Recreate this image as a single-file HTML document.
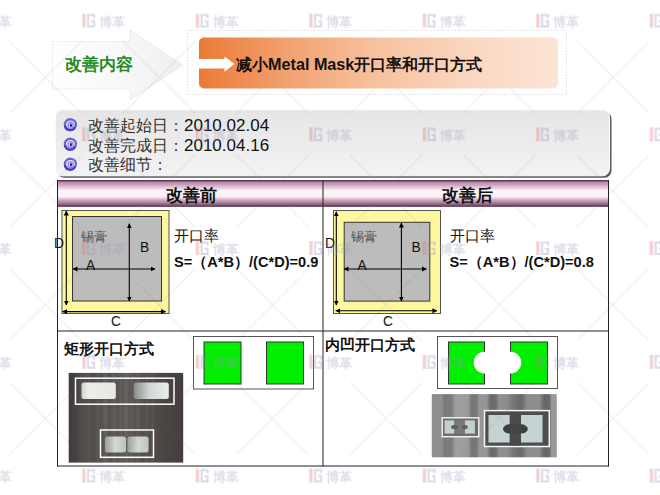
<!DOCTYPE html>
<html><head><meta charset="utf-8">
<style>
html,body{margin:0;padding:0;background:#fff;}
body{width:660px;height:495px;position:relative;overflow:hidden;font-family:"Liberation Sans",sans-serif;}
.t{position:absolute;white-space:nowrap;line-height:1;}
svg{position:absolute;left:0;top:0;}
</style></head><body>
<svg width="660" height="495" viewBox="0 0 660 495">
  <defs>
    <linearGradient id="og" x1="0" y1="0" x2="1" y2="0">
      <stop offset="0" stop-color="#ea7a36"/>
      <stop offset="0.25" stop-color="#f2a271"/>
      <stop offset="0.5" stop-color="#f7c2a0"/>
      <stop offset="0.75" stop-color="#fad6c0"/>
      <stop offset="1" stop-color="#fce4d6"/>
    </linearGradient>
    <linearGradient id="ag" x1="0" y1="0" x2="1" y2="0">
      <stop offset="0" stop-color="#ffffff"/>
      <stop offset="0.5" stop-color="#f8f8f8"/>
      <stop offset="1" stop-color="#efefef"/>
    </linearGradient>
    <linearGradient id="ig" x1="0" y1="0" x2="0" y2="1">
      <stop offset="0" stop-color="#e5e5e5"/>
      <stop offset="0.5" stop-color="#ececec"/>
      <stop offset="1" stop-color="#f3f3f3"/>
    </linearGradient>
    <linearGradient id="hg" x1="0" y1="0" x2="0" y2="1">
      <stop offset="0" stop-color="#4a2a42"/>
      <stop offset="0.045" stop-color="#7a4a68"/>
      <stop offset="0.08" stop-color="#b888a6"/>
      <stop offset="0.16" stop-color="#c99cb9"/>
      <stop offset="0.4" stop-color="#fbf6f9"/>
      <stop offset="0.62" stop-color="#f8f0f4"/>
      <stop offset="0.76" stop-color="#cba4bc"/>
      <stop offset="0.88" stop-color="#a07090"/>
      <stop offset="0.95" stop-color="#7a4a68"/>
      <stop offset="1" stop-color="#3a2234"/>
    </linearGradient>
    <marker id="ah" viewBox="0 0 10 10" refX="9" refY="5" markerWidth="5" markerHeight="5.2" orient="auto-start-reverse" markerUnits="userSpaceOnUse">
      <path d="M0,0 L10,5 L0,10 z" fill="#000"/>
    </marker>
  </defs>

  <!-- title left arrow -->
  <path d="M52.5,41.5 H130 V30 L183,65 L130,100 V89 H52.5 Z" fill="url(#ag)"/>
  <path d="M52.5,41.5 H130 V30 L183,65 L130,100 V89 H52.5 Z" fill="none" stroke="#e2e2e2" stroke-width="1" stroke-dasharray="1.5 1.5"/>
  <!-- dotted outer around orange -->
  <rect x="187.5" y="30.5" width="379" height="64" fill="none" stroke="#e0e0e0" stroke-width="1" stroke-dasharray="1.5 1.5"/>
  <rect x="199" y="37.5" width="359" height="51" rx="5" fill="url(#og)"/>
  <path d="M199,59 H224.5 V56.4 L234.5,64 L224.5,71.8 V68.5 H199 Z" fill="#fff"/>

  <!-- info box -->
  <rect x="57.2" y="111.8" width="554.3" height="66" rx="7" fill="#5a5a5a"/>
  <rect x="55.2" y="109.8" width="554.3" height="66" rx="7" fill="url(#ig)" stroke="#fff" stroke-width="1"/>


  <!-- bullets -->
  <g>
    <path d="M74.8,127.6 C72.6,131.2 66.4,131 65.1,126.4 C63.9,122 67.4,118.9 71.2,119.3 C75,119.7 76.8,123.2 75.6,126.2" fill="none" stroke="#6a62d6" stroke-width="2.3" stroke-linecap="round"/>
    <path d="M74.8,127.6 C72.6,131.2 66.4,131 65.1,126.4" fill="none" stroke="#4a40c0" stroke-width="2.2" stroke-linecap="round"/>
    <ellipse cx="70.6" cy="125.2" rx="2.6" ry="3.1" fill="none" stroke="#8a84e4" stroke-width="1.3"/>
    <ellipse cx="70.9" cy="125.2" rx="1.1" ry="1.9" fill="#2a2290"/>
  </g>
  <g transform="translate(0,19.5)">
    <path d="M74.8,127.6 C72.6,131.2 66.4,131 65.1,126.4 C63.9,122 67.4,118.9 71.2,119.3 C75,119.7 76.8,123.2 75.6,126.2" fill="none" stroke="#6a62d6" stroke-width="2.3" stroke-linecap="round"/>
    <path d="M74.8,127.6 C72.6,131.2 66.4,131 65.1,126.4" fill="none" stroke="#4a40c0" stroke-width="2.2" stroke-linecap="round"/>
    <ellipse cx="70.6" cy="125.2" rx="2.6" ry="3.1" fill="none" stroke="#8a84e4" stroke-width="1.3"/>
    <ellipse cx="70.9" cy="125.2" rx="1.1" ry="1.9" fill="#2a2290"/>
  </g>
  <g transform="translate(0,39.5)">
    <path d="M74.8,127.6 C72.6,131.2 66.4,131 65.1,126.4 C63.9,122 67.4,118.9 71.2,119.3 C75,119.7 76.8,123.2 75.6,126.2" fill="none" stroke="#6a62d6" stroke-width="2.3" stroke-linecap="round"/>
    <path d="M74.8,127.6 C72.6,131.2 66.4,131 65.1,126.4" fill="none" stroke="#4a40c0" stroke-width="2.2" stroke-linecap="round"/>
    <ellipse cx="70.6" cy="125.2" rx="2.6" ry="3.1" fill="none" stroke="#8a84e4" stroke-width="1.3"/>
    <ellipse cx="70.9" cy="125.2" rx="1.1" ry="1.9" fill="#2a2290"/>
  </g>

  <!-- table header -->
  <rect x="58" y="180" width="550.5" height="26.8" fill="url(#hg)"/>
  <!-- table lines -->
  <g stroke="#222" stroke-width="1" fill="none">
    <line x1="57.5" y1="180" x2="57.5" y2="466.5"/>
    <line x1="608.5" y1="180" x2="608.5" y2="466.5"/>
    <line x1="323" y1="180" x2="323" y2="466.5"/>
    <line x1="57.5" y1="331" x2="608.5" y2="331"/>
    <line x1="57" y1="466" x2="609" y2="466"/>
  </g>

  <!-- left diagram -->
  <rect x="62" y="210.5" width="107" height="103" fill="#fdf79e" stroke="#555" stroke-width="1"/>
  <rect x="72.5" y="216.5" width="89" height="84.5" fill="#bcbcbc" stroke="#333" stroke-width="1"/>
  <g stroke="#000" stroke-width="1.1" marker-start="url(#ah)" marker-end="url(#ah)">
    <line x1="66.3" y1="211" x2="66.3" y2="305"/>
    <line x1="62.6" y1="311.6" x2="165.5" y2="311.6"/>
    <line x1="73" y1="269" x2="155" y2="269"/>
    <line x1="129.3" y1="223.8" x2="129.3" y2="301"/>
  </g>

  <!-- right diagram -->
  <rect x="333.5" y="210.5" width="107" height="103" fill="#fdf79e" stroke="#555" stroke-width="1"/>
  <rect x="344.2" y="222.3" width="85.6" height="78.8" fill="#bcbcbc" stroke="#333" stroke-width="1"/>
  <g stroke="#000" stroke-width="1.1" marker-start="url(#ah)" marker-end="url(#ah)">
    <line x1="336.3" y1="211.8" x2="336.3" y2="305"/>
    <line x1="335.8" y1="310.8" x2="436.9" y2="310.8"/>
    <line x1="344" y1="269" x2="426.4" y2="269"/>
    <line x1="401.4" y1="223" x2="401.4" y2="301"/>
  </g>

  <!-- green boxes left -->
  <rect x="193.5" y="336.5" width="120" height="52.5" fill="#fff" stroke="#555" stroke-width="1"/>
  <rect x="204" y="342" width="37" height="42" fill="#00ee00" stroke="#333" stroke-width="1"/>
  <rect x="266.5" y="342" width="37" height="42" fill="#00ee00" stroke="#333" stroke-width="1"/>

  <!-- green boxes right -->
  <rect x="437.5" y="336.5" width="120" height="52" fill="#fff" stroke="#555" stroke-width="1"/>
  <rect x="448.5" y="342" width="36" height="42" fill="#00ee00" stroke="#333" stroke-width="1"/>
  <rect x="510.5" y="342" width="37" height="42" fill="#00ee00" stroke="#333" stroke-width="1"/>
  <circle cx="484.5" cy="362.6" r="10.8" fill="#fff"/>
  <circle cx="510.5" cy="362.6" r="10.8" fill="#fff"/>
  

  <!-- left photo -->
  <defs>
    <linearGradient id="lp" x1="0" y1="0" x2="1" y2="0">
      <stop offset="0" stop-color="#403c3b"/>
      <stop offset="0.1" stop-color="#4a4644"/>
      <stop offset="0.3" stop-color="#565250"/>
      <stop offset="0.5" stop-color="#5a5654"/>
      <stop offset="0.7" stop-color="#524c4a"/>
      <stop offset="0.85" stop-color="#4a4442"/>
      <stop offset="1" stop-color="#443e3c"/>
    </linearGradient>
    <linearGradient id="pad1" x1="0" y1="0" x2="1" y2="0">
      <stop offset="0" stop-color="#d0d3cd"/>
      <stop offset="0.2" stop-color="#eceee8"/>
      <stop offset="1" stop-color="#e6e8e2"/>
    </linearGradient>
    <linearGradient id="pad2" x1="0" y1="0" x2="1" y2="0">
      <stop offset="0" stop-color="#8a8c88"/>
      <stop offset="0.45" stop-color="#d4d8d4"/>
      <stop offset="1" stop-color="#eaeeea"/>
    </linearGradient>
    <linearGradient id="pad3" x1="0" y1="0" x2="1" y2="0">
      <stop offset="0" stop-color="#9a9e9a"/>
      <stop offset="0.5" stop-color="#d4d9d4"/>
      <stop offset="1" stop-color="#bcc2bc"/>
    </linearGradient>
    <linearGradient id="rp" x1="0" y1="0" x2="1" y2="0">
      <stop offset="0" stop-color="#8d8d8d"/>
      <stop offset="0.08" stop-color="#8f8f8f"/>
      <stop offset="0.1" stop-color="#7a7a7a"/>
      <stop offset="0.16" stop-color="#7e7e7e"/>
      <stop offset="0.19" stop-color="#9f9f9f"/>
      <stop offset="0.29" stop-color="#9b9b9b"/>
      <stop offset="0.32" stop-color="#767676"/>
      <stop offset="0.36" stop-color="#787878"/>
      <stop offset="0.38" stop-color="#979797"/>
      <stop offset="0.44" stop-color="#959595"/>
      <stop offset="0.47" stop-color="#6a6a6a"/>
      <stop offset="0.51" stop-color="#6d6d6d"/>
      <stop offset="0.54" stop-color="#8f8f8f"/>
      <stop offset="0.6" stop-color="#8d8d8d"/>
      <stop offset="0.66" stop-color="#747474"/>
      <stop offset="0.72" stop-color="#696969"/>
      <stop offset="0.76" stop-color="#8b8b8b"/>
      <stop offset="0.86" stop-color="#8e8e8e"/>
      <stop offset="0.9" stop-color="#666666"/>
      <stop offset="0.94" stop-color="#696969"/>
      <stop offset="0.96" stop-color="#9b9b9b"/>
      <stop offset="1" stop-color="#989898"/>
    </linearGradient>
  </defs>
  <rect x="68.7" y="372.9" width="114.5" height="89.7" fill="url(#lp)"/>
  <filter id="bl" x="-50%" y="-5%" width="200%" height="110%"><feGaussianBlur stdDeviation="0.9"/></filter>
  <g fill="#ffffff" opacity="0.09" filter="url(#bl)">
    <rect x="80" y="372.9" width="1.5" height="89.7"/>
    <rect x="84" y="372.9" width="1.5" height="89.7"/>
    <rect x="88" y="372.9" width="2" height="89.7"/>
    <rect x="97" y="372.9" width="1.5" height="89.7"/>
    <rect x="104" y="372.9" width="3" height="89.7"/>
    <rect x="113" y="372.9" width="2" height="89.7"/>
    <rect x="120" y="372.9" width="1.5" height="89.7"/>
    <rect x="125" y="372.9" width="3" height="89.7"/>
    <rect x="131" y="372.9" width="1.5" height="89.7"/>
    <rect x="137" y="372.9" width="2" height="89.7"/>
    <rect x="146" y="372.9" width="1.5" height="89.7"/>
    <rect x="152" y="372.9" width="1.5" height="89.7"/>
  </g>
  <rect x="75.5" y="378.2" width="98.5" height="26" fill="none" stroke="#fff" stroke-width="1.5"/>
  <rect x="81.5" y="382.6" width="34.3" height="16.4" rx="2.5" fill="url(#pad1)"/>
  <rect x="133.8" y="382.6" width="35" height="16.4" rx="2.5" fill="url(#pad2)"/>
  <rect x="100.5" y="430" width="53" height="27.3" fill="none" stroke="#fff" stroke-width="1.5"/>
  <rect x="105" y="436.5" width="21" height="16.1" rx="2.5" fill="url(#pad3)"/>
  <rect x="127.4" y="436.5" width="21.2" height="16.1" rx="2.5" fill="url(#pad3)"/>

  <!-- right photo -->
  <rect x="431.8" y="394.1" width="125" height="63.2" fill="url(#rp)"/>
  <rect x="442.2" y="417.8" width="36.6" height="18.9" fill="#6c6c6c" stroke="#f4f4f4" stroke-width="1.4"/>
  <rect x="444.6" y="420.4" width="9.8" height="13.2" fill="#c4d0d0"/>
  <rect x="464.8" y="420.4" width="10.1" height="13.2" fill="#c4d0d0"/>
  <rect x="454.4" y="420.4" width="10.4" height="13.2" fill="#787878"/>
  <ellipse cx="454.4" cy="427.1" rx="3.5" ry="2.1" fill="#5e5e5e"/>
  <ellipse cx="464.8" cy="427.1" rx="3" ry="2.1" fill="#5e5e5e"/>
  <rect x="484.5" y="410.6" width="64.8" height="35.9" fill="#4e4e4e" stroke="#f6f6f6" stroke-width="1.5"/>
  <rect x="488.5" y="415" width="21.3" height="27.5" fill="#c6d3d3"/>
  <rect x="521" y="415" width="21.5" height="27.5" fill="#c6d3d3"/>
  <rect x="509.8" y="412" width="11.2" height="33.5" fill="#4a4a4a"/>
  <ellipse cx="509.8" cy="428.9" rx="6.8" ry="4.6" fill="#3e3e3e"/>
  <ellipse cx="521" cy="428.9" rx="6.8" ry="4.6" fill="#3e3e3e"/>
  <rect x="509.8" y="424.3" width="11.2" height="9.2" fill="#444"/>
</svg>

<div class="t" style="left:65px;top:57px;font-size:16.6px;font-weight:bold;color:#268a26;">改善内容</div>
<div class="t" style="left:236px;top:56px;font-size:16.2px;font-weight:bold;color:#111;">减小Metal Mask开口率和开口方式</div>

<div class="t" style="left:88px;top:117px;font-size:16.25px;color:#333;">改善起始日：<span style="font-size:17px;color:#111">2010.02.04</span></div>
<div class="t" style="left:88px;top:136.7px;font-size:16.25px;color:#333;">改善完成日：<span style="font-size:17px;color:#111">2010.04.16</span></div>
<div class="t" style="left:88px;top:156.4px;font-size:16.25px;color:#333;">改善细节：</div>

<div class="t" style="left:166px;top:187px;font-size:17px;font-weight:bold;color:#111;font-family:'Liberation Serif',serif;">改善前</div>
<div class="t" style="left:442px;top:187px;font-size:17px;font-weight:bold;color:#111;font-family:'Liberation Serif',serif;">改善后</div>

<div class="t" style="left:54px;top:237px;font-size:13.8px;color:#111;">D</div>
<div class="t" style="left:111px;top:315px;font-size:13.8px;color:#111;">C</div>
<div class="t" style="left:86px;top:258.5px;font-size:13.8px;color:#111;">A</div>
<div class="t" style="left:140px;top:241px;font-size:13.8px;color:#111;">B</div>
<div class="t" style="left:81px;top:230px;font-size:13px;color:#555;font-family:'Liberation Serif',serif;">锡膏</div>

<div class="t" style="left:325px;top:237px;font-size:13.8px;color:#111;">D</div>
<div class="t" style="left:383px;top:315px;font-size:13.8px;color:#111;">C</div>
<div class="t" style="left:357.5px;top:258.5px;font-size:13.8px;color:#111;">A</div>
<div class="t" style="left:411.5px;top:241px;font-size:13.8px;color:#111;">B</div>
<div class="t" style="left:351px;top:230px;font-size:13px;color:#555;font-family:'Liberation Serif',serif;">锡膏</div>

<div class="t" style="left:174px;top:229px;font-size:15px;color:#111;font-family:'Liberation Serif',serif;">开口率</div>
<div class="t" style="left:174px;top:255px;font-size:14.6px;font-weight:bold;color:#111;">S=（A*B）/(C*D)=0.9</div>
<div class="t" style="left:449.5px;top:229px;font-size:15px;color:#111;font-family:'Liberation Serif',serif;">开口率</div>
<div class="t" style="left:449.5px;top:255px;font-size:14.6px;font-weight:bold;color:#111;">S=（A*B）/(C*D)=0.8</div>

<div class="t" style="left:64px;top:342px;font-size:15px;font-weight:bold;color:#111;font-family:'Liberation Serif',serif;">矩形开口方式</div>
<div class="t" style="left:325px;top:338px;font-size:15px;font-weight:bold;color:#111;font-family:'Liberation Serif',serif;">内凹开口方式</div>
<svg width="660" height="495" viewBox="0 0 660 495" style="pointer-events:none">
  <defs>
    <pattern id="wm" x="45.45" y="77.375" width="113.5" height="113.75" patternUnits="userSpaceOnUse">
      <g stroke="#707070" stroke-width="1" opacity="0.13">
        <line x1="0" y1="0" x2="36" y2="36"/>
        <line x1="113.5" y1="0" x2="77.5" y2="36"/>
        <line x1="0" y1="113.75" x2="36" y2="77.75"/>
        <line x1="113.5" y1="113.75" x2="77.5" y2="77.75"/>
      </g>
      <g opacity="0.33">
        <rect x="36.8" y="50" width="3.4" height="14" fill="#e07070"/>
        <path d="M41.6,50.4 H49.6 V54.6 H47.6 V52.4 H43.6 V61.8 H47.6 V58.6 H45.6 V56.6 H49.6 V63.8 H41.6 Z" fill="#8a8ab8"/>
        <text x="53.6" y="62.9" font-size="13" fill="#9a9ab8" font-family="Liberation Sans" font-weight="bold">博革</text>
      </g>
    </pattern>
  </defs>
    <mask id="wmm"><rect x="0" y="0" width="660" height="495" fill="#fff"/><rect x="199" y="37.5" width="359" height="51" rx="5" fill="#000"/><rect x="58" y="180" width="550.5" height="26.8" fill="#000"/></mask>
  <rect x="0" y="0" width="660" height="495" fill="url(#wm)" mask="url(#wmm)"/>
</svg>
</body></html>
